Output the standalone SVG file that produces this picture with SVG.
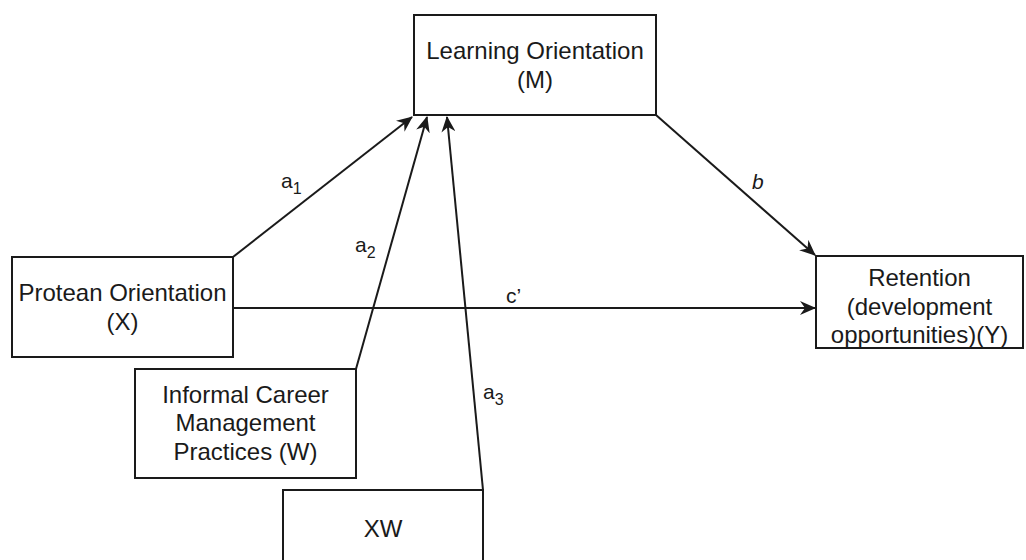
<svg xmlns="http://www.w3.org/2000/svg" width="1026" height="560" viewBox="0 0 1026 560">
  <style>
    .box { fill: #ffffff; stroke: #1a1a1a; stroke-width: 2; }
    .lbl { font-family: "Liberation Sans", Arial, sans-serif; font-size: 24px; fill: #1a1a1a; text-anchor: middle; }
    .edge { fill: none; stroke: #1a1a1a; stroke-width: 2; }
    .elbl { font-family: "Liberation Sans", Arial, sans-serif; font-size: 21px; fill: #1a1a1a; }
    .sub { font-size: 16px; }
  </style>
  <defs>
    <marker id="arrow" viewBox="0 0 16 14" refX="15" refY="7" markerWidth="16" markerHeight="14" markerUnits="userSpaceOnUse" orient="auto">
      <path d="M0,0 L16,7 L0,14 L5,7 Z" fill="#1a1a1a"/>
    </marker>
  </defs>
  <rect width="1026" height="560" fill="#ffffff"/>

  <!-- connectors -->
  <g id="connectors">
    <line class="edge" x1="233" y1="257" x2="412" y2="117" marker-end="url(#arrow)"/>
    <line class="edge" x1="356" y1="369" x2="427" y2="117" marker-end="url(#arrow)"/>
    <line class="edge" x1="483" y1="490" x2="447" y2="117" marker-end="url(#arrow)"/>
    <line class="edge" x1="656" y1="115" x2="815" y2="255" marker-end="url(#arrow)"/>
    <line class="edge" x1="233" y1="308" x2="815" y2="308" marker-end="url(#arrow)"/>
    <text class="elbl" x="281" y="188">a<tspan class="sub" dy="6">1</tspan></text>
    <text class="elbl" x="355" y="252">a<tspan class="sub" dy="6">2</tspan></text>
    <text class="elbl" x="483" y="399">a<tspan class="sub" dy="6">3</tspan></text>
    <text class="elbl" x="752" y="189" font-style="italic">b</text>
    <text class="elbl" x="506" y="303">c’</text>
  </g>

  <!-- Learning Orientation (M) -->
  <g id="node-m">
    <rect class="box" x="414" y="15" width="242" height="100"/>
    <text class="lbl" x="535" y="59">Learning Orientation</text>
    <text class="lbl" x="535" y="88">(M)</text>
  </g>

  <!-- Protean Orientation (X) -->
  <g id="node-x">
    <rect class="box" x="12" y="257" width="221" height="100"/>
    <text class="lbl" x="122.5" y="301">Protean Orientation</text>
    <text class="lbl" x="122.5" y="330">(X)</text>
  </g>

  <!-- Informal Career Management Practices (W) -->
  <g id="node-w">
    <rect class="box" x="135" y="369" width="221" height="109"/>
    <text class="lbl" x="245.5" y="403">Informal Career</text>
    <text class="lbl" x="245.5" y="431">Management</text>
    <text class="lbl" x="245.5" y="460">Practices (W)</text>
  </g>

  <!-- Interaction term XW -->
  <g id="node-xw">
    <rect class="box" x="283" y="490" width="200" height="100"/>
    <text class="lbl" x="383" y="537">XW</text>
  </g>

  <!-- Retention (Y) -->
  <g id="node-y">
    <rect class="box" x="816" y="256" width="207" height="92"/>
    <text class="lbl" x="919.5" y="286">Retention</text>
    <text class="lbl" x="919.5" y="315">(development</text>
    <text class="lbl" x="919.5" y="343">opportunities)(Y)</text>
  </g>
</svg>
